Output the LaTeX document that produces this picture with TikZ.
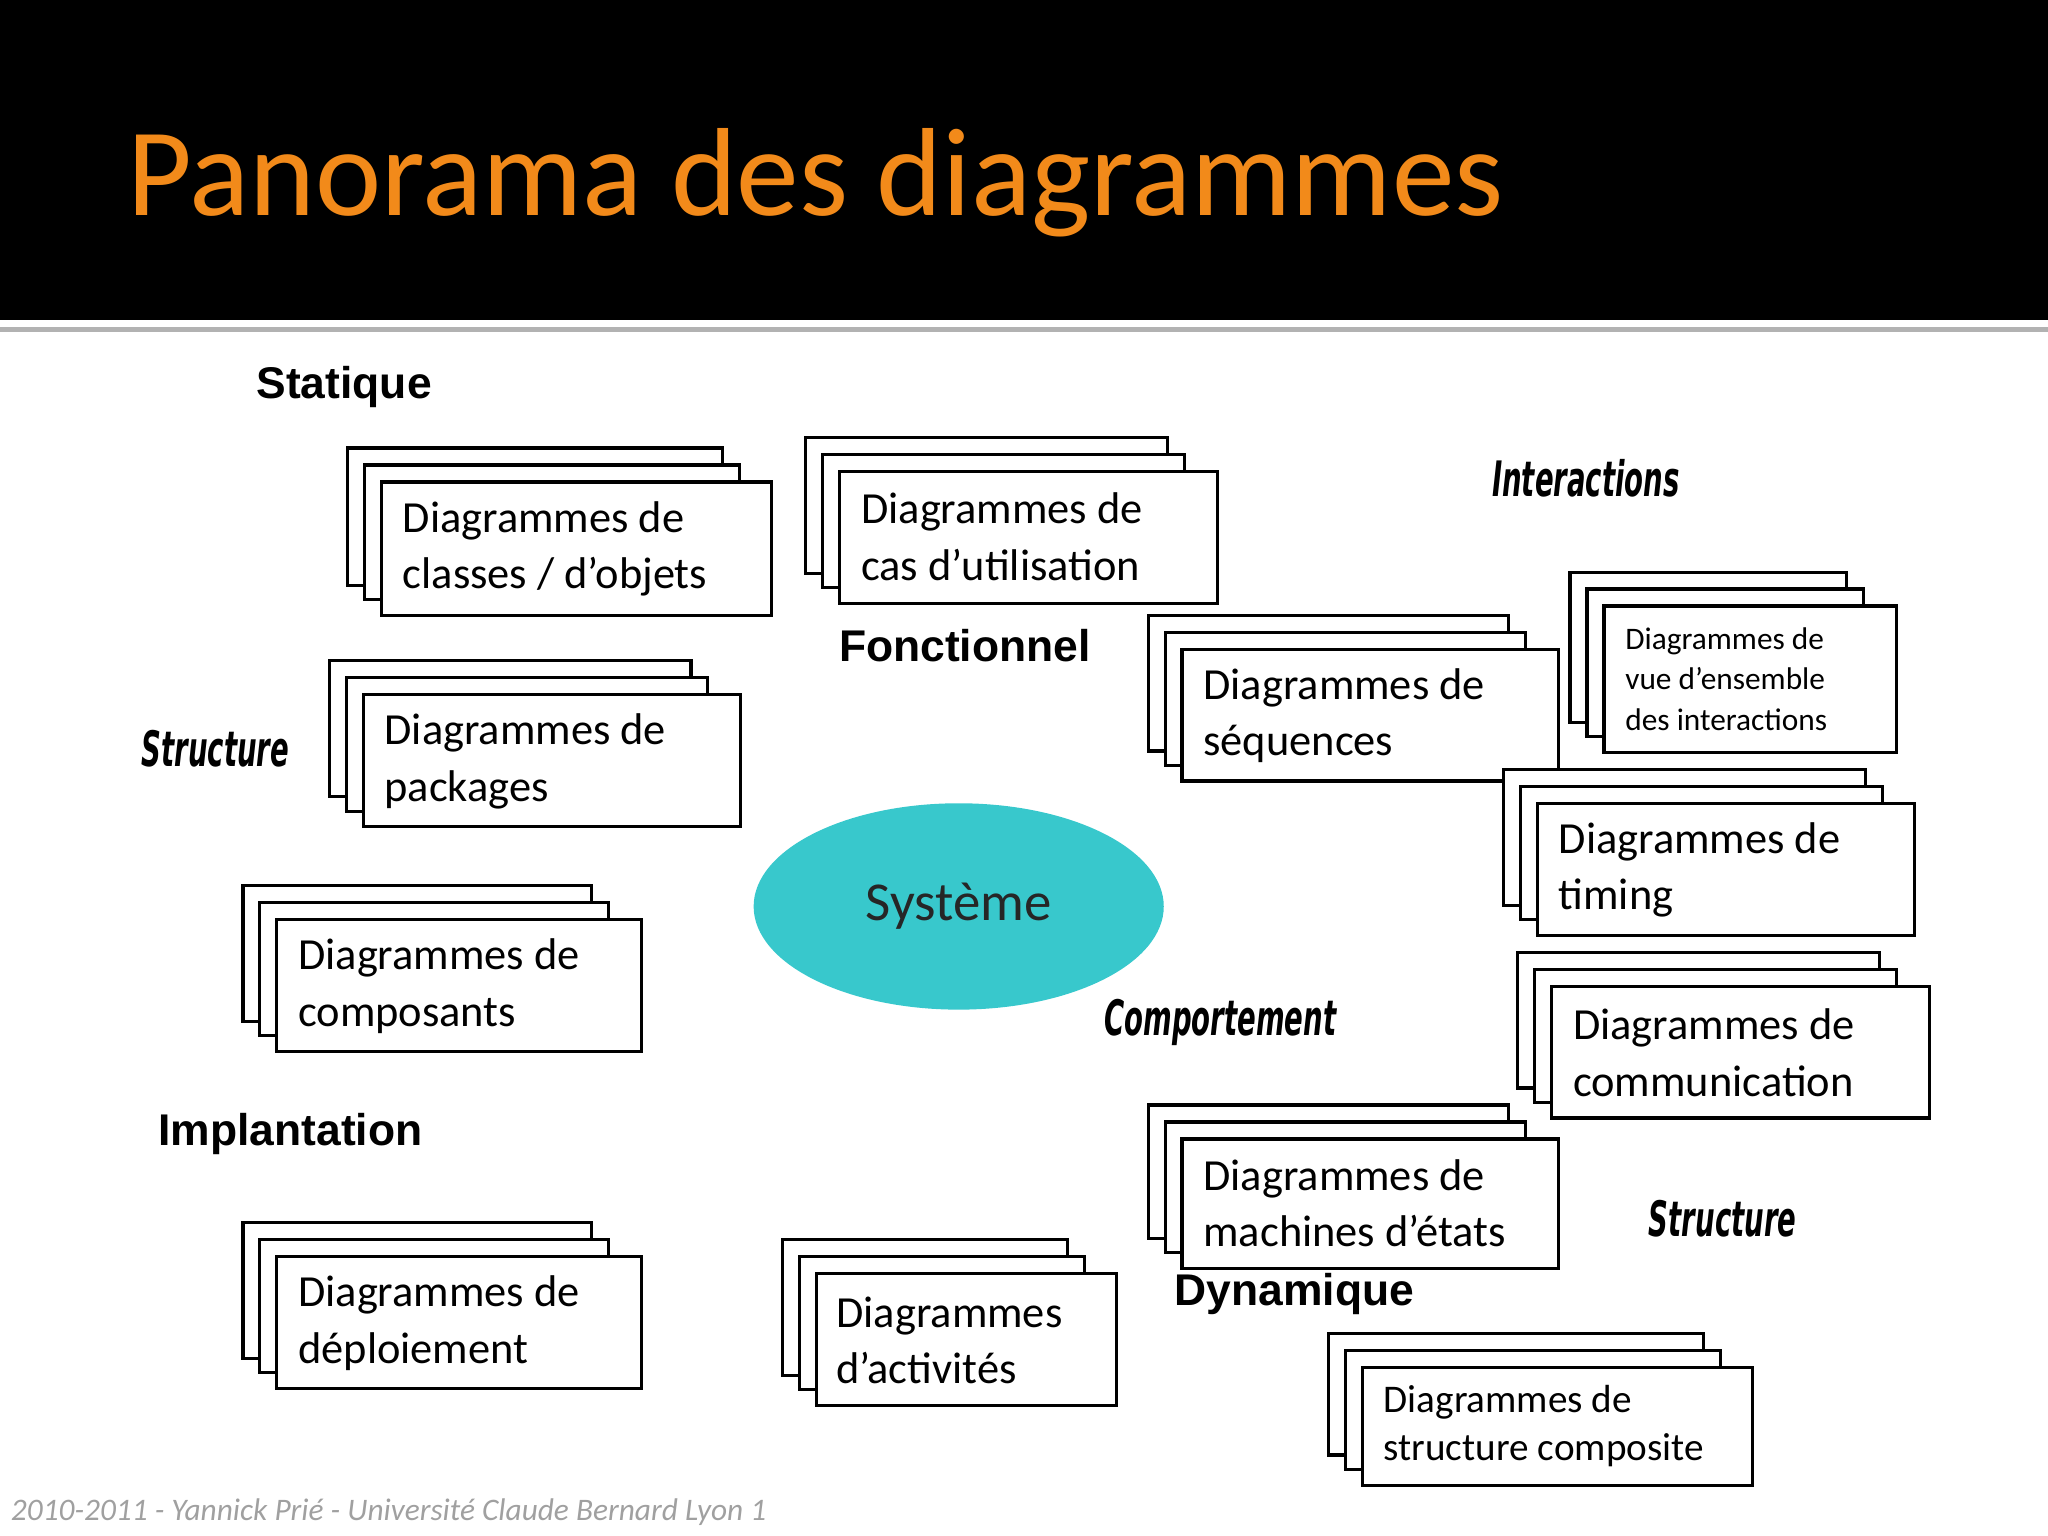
\documentclass[tikz,border=0pt]{standalone}
\usepackage{fontspec}
\usetikzlibrary{shapes.geometric}
\setmainfont{Carlito}
\newfontfamily\heavy{Liberation Sans}
\newfontfamily\slant{DejaVu Sans}
\definecolor{ttl}{HTML}{F28A1A}
\definecolor{sys}{HTML}{38C8CC}
\definecolor{foot}{HTML}{A0A0A0}
\newcommand{\stk}[4]{%
 \draw[stackbox] (#1-26,#2-26) rectangle (#1+#3-38,#2+#4-23);
 \draw[stackbox] (#1-13,#2-13) rectangle (#1+#3-25,#2+#4-12);
 \draw[stackbox] (#1,#2) rectangle (#1+#3,#2+#4);}
\tikzset{stackbox/.style={draw=black,line width=1.2,fill=white},
 big/.style={font=\heavy\bfseries\fontsize{17}{20}\selectfont,anchor=west,inner sep=0},
 cond/.style={font=\slant\bfseries\itshape\fontsize{17}{20}\selectfont,anchor=west,inner sep=0},
 lbl/.style={anchor=west,align=left,inner sep=0,font=\fontsize{17}{21.5}\selectfont}}
\begin{document}
\begin{tikzpicture}[x=0.5pt,y=-0.5pt]
\useasboundingbox (0,0) rectangle (1568,1176);
\fill[black] (0,0) rectangle (1568,245);
\fill[gray!60] (0,250) rectangle (1568,254);
\node[anchor=base west,inner sep=0,text=ttl,font=\fontsize{48}{50}\selectfont] (title) at (97,165) {Panorama des diagrammes};
\stk{292}{369}{299}{102}\node[lbl] (t1) at (308,420) {Diagrammes de\\classes / d’objets};
\stk{643}{361}{289}{101}\node[lbl] (t2) at (659,411) {Diagrammes de\\cas d’utilisation};
\stk{278}{532}{289}{101}\node[lbl] (t3) at (294,583) {Diagrammes de\\packages};
\stk{212}{704}{279}{101}\node[lbl] (t4) at (228,755) {Diagrammes de\\composants};
\stk{212}{962}{279}{101}\node[lbl] (t5) at (228,1013) {Diagrammes de\\déploiement};
\stk{625}{975}{230}{101}\node[lbl] (t6) at (640,1026) {Diagrammes\\d’activités};
\stk{905}{497}{288}{101}\node[lbl] (t7) at (921,548) {Diagrammes de\\séquences};
\stk{1228}{464}{224}{112}\node[lbl,font=\fontsize{12}{15.5}\selectfont] (t8) at (1244,520) {Diagrammes de\\vue d’ensemble\\des interactions};
\stk{1177}{615}{289}{101}\node[lbl] (t9) at (1193,666) {Diagrammes de\\timing};
\stk{1188}{755}{289}{101}\node[lbl] (t10) at (1204,806) {Diagrammes de\\communication};
\stk{905}{872}{288}{99}\node[lbl] (t11) at (921,921) {Diagrammes de\\machines d’états};
\stk{1043}{1047}{299}{90}\node[lbl,font=\fontsize{15}{18.5}\selectfont] (t12) at (1059,1092) {Diagrammes de\\structure composite};
\node[ellipse,fill=sys,minimum width=157pt,minimum height=79pt,inner sep=0] (sys) at (734,694) {};
\node[font=\fontsize{21}{24}\selectfont,text=black!85] (st) at (sys) {Système};
\node[big] (l1) at (196,296) {Statique};
\node[big] (l2) at (642,494) {Fonctionnel};
\node[big] (l3) at (121,868) {Implantation};
\node[big] (l4) at (899,991) {Dynamique};
\node[cond] (c1) at (1142,366) {\scalebox{0.62}[1.1]{Interactions}};
\node[cond] (c2) at (108,573) {\scalebox{0.62}[1.1]{Structure}};
\node[cond] (c3) at (845,783) {\scalebox{0.62}[1.1]{Comportement}};
\node[cond] (c4) at (1262,933) {\scalebox{0.62}[1.1]{Structure}};
\node[anchor=west,inner sep=0,text=foot,font=\itshape\fontsize{12}{14}\selectfont] (ft) at (8,1158) {2010-2011 - Yannick Prié - Université Claude Bernard Lyon 1};
\end{tikzpicture}
\end{document}
